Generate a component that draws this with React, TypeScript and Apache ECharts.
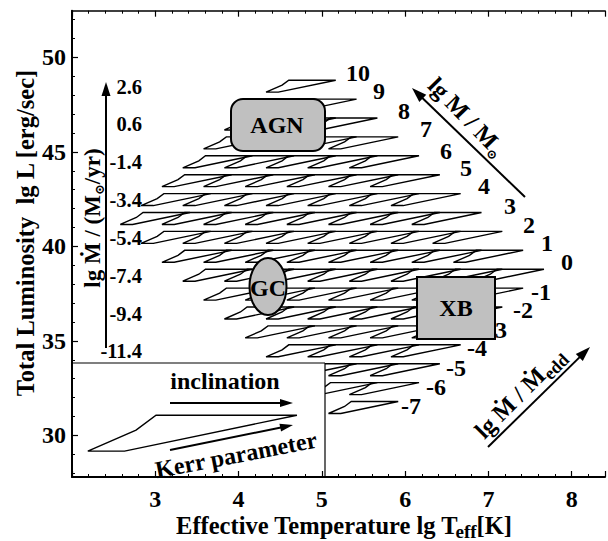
import React, { useEffect, useRef } from 'react';
import * as echarts from 'echarts';

const FONT = "'Liberation Serif', 'Times New Roman', 'DejaVu Serif', serif";

// ---- data ----
// lg L of the lower-left vertex (tip) of the shapes in each row, top to bottom
const rowTipLum = [48.16, 47.16, 46.16, 45.16, 44.16, 43.16, 42.16, 41.16, 40.16, 39.16, 38.16, 37.16, 36.16, 35.16, 34.16, 33.16, 32.16, 31.16];
// lg T_eff of the tip of each shape in each row (right to left)
const rowTipTeff = [
  [4.33],
  [4.58, 4.08],
  [4.83, 4.33, 3.83],
  [5.08, 4.58, 4.08, 3.58],
  [5.33, 4.83, 4.33, 3.83, 3.33],
  [5.58, 5.08, 4.58, 4.08, 3.58, 3.08],
  [5.83, 5.33, 4.83, 4.33, 3.83, 3.33, 2.83],
  [6.08, 5.58, 5.08, 4.58, 4.08, 3.58, 3.08, 2.58],
  [6.33, 5.83, 5.33, 4.83, 4.33, 3.83, 3.33, 2.83],
  [6.58, 6.08, 5.58, 5.08, 4.58, 4.08, 3.58, 3.08],
  [6.83, 6.33, 5.83, 5.33, 4.83, 4.33, 3.83, 3.33],
  [6.58, 6.08, 5.58, 5.08, 4.58, 4.08, 3.58],
  [6.33, 5.83, 5.33, 4.83, 4.33, 3.83],
  [6.08, 5.58, 5.08, 4.58, 4.08],
  [5.83, 5.33, 4.83, 4.33],
  [5.58, 5.08, 4.58],
  [5.33, 4.83],
  [5.08],
];
// one shape (range over inclination and Kerr parameter), offsets from its tip
const shapeDTeff = [0, 0.147, 0.837, 0.273, 0.193];
const shapeDLum = [0, 0, 0.633, 0.633, 0.37];
// magnified example in the inset
const insetTip = [2.19, 29.17];
const insetScale = 3;

const massLabels = ['10', '9', '8', '7', '6', '5', '4', '3', '2', '1', '0'];
const eddLabels = ['-1', '-2', '-3', '-4', '-5', '-6', '-7'];
const mdotValues = [2.6, 0.6, -1.4, -3.4, -5.4, -7.4, -9.4, -11.4];
const lumOfMdotOffset = 45.85;

const xTickLabels = [3, 4, 5, 6, 7, 8];
const yTickLabels = [30, 35, 40, 45, 50];
const yMinorTicks = [28, 29, 30, 31, 32, 33, 34, 35, 36, 37, 38, 39, 40, 41, 42, 43, 44, 45, 46, 47, 48, 49, 50, 51, 52];

// ---- layout (pixels) ----
const massLabelPos = [[358, 73], [379, 91], [404, 111], [426, 129], [446, 151], [466, 168], [484, 186], [510, 206], [529, 225], [547, 243], [567, 262]];
const eddLabelPos = [[541, 292], [523, 310], [497, 330], [477, 348], [456, 368], [436, 387], [411, 406]];

const measureCtx = typeof document !== 'undefined' ? document.createElement('canvas').getContext('2d') : null;
function textWidth(t: string, size: number) {
  if (!measureCtx) return t.length * size * 0.5;
  measureCtx.font = `bold ${size}px ${FONT}`;
  return measureCtx.measureText(t).width;
}

function txt(text: string, x: number, y: number, size: number, z: number, extra: any = {}) {
  return {
    type: 'text', x, y, z, silent: true, ...extra,
    style: { text, fontSize: size, fontWeight: 'bold', fontFamily: FONT, fill: '#000', align: extra.align || 'center', verticalAlign: 'middle' },
  };
}

type Part = { t: string; size: number; dy?: number; gap?: number };
function subGroup(parts: Part[], x: number, y: number, rotation: number, z: number) {
  const widths = parts.map((p) => textWidth(p.t, p.size) + (p.gap || 0));
  const total = widths.reduce((a, b) => a + b, 0);
  let cx = -total / 2;
  const children = parts.map((p, i) => {
    const el = {
      type: 'text', x: cx + (p.gap || 0), y: p.dy || 0, z, silent: true,
      style: { text: p.t, fontSize: p.size, fontWeight: 'bold', fontFamily: FONT, fill: '#000', align: 'left', verticalAlign: 'middle' },
    };
    cx += widths[i];
    return el;
  });
  return { type: 'group', x, y, rotation, z, children };
}

function arrow(x1: number, y1: number, x2: number, y2: number, head: number, half: number, width: number, z: number) {
  const dx = x2 - x1, dy = y2 - y1, L = Math.hypot(dx, dy), ux = dx / L, uy = dy / L;
  const bx = x2 - ux * head, by = y2 - uy * head;
  return [
    { type: 'line', z, silent: true, shape: { x1, y1, x2: bx + ux * 2, y2: by + uy * 2 }, style: { stroke: '#000', lineWidth: width } },
    { type: 'polygon', z, silent: true, shape: { points: [[x2, y2], [bx - uy * half, by + ux * half], [bx + uy * half, by - ux * half]] }, style: { fill: '#000' } },
  ];
}

export default function App() {
  const ref = useRef<HTMLDivElement>(null);
  useEffect(() => {
    document.body.style.margin = '0';
    const chart = echarts.init(ref.current!, null, { renderer: 'svg' });

    const shapeData: number[][] = [];
    rowTipTeff.forEach((row, r) => row.forEach((t) => shapeData.push([t, rowTipLum[r], 1])));

    const renderShape = (params: any, api: any) => {
      const x = api.value(0), y = api.value(1), s = api.value(2);
      const pts = shapeDTeff.map((dt, i) => api.coord([x + dt * s, y + shapeDLum[i] * s]));
      return { type: 'polygon', shape: { points: pts }, style: { fill: 'none', stroke: '#000', lineWidth: 1.4 } };
    };

    const labelFont = { fontFamily: FONT, fontWeight: 'bold' as const, fontSize: 24, color: '#000' };
    const xCommon = {
      type: 'value', min: 2, max: 8.4, interval: 1, z: 20,
      splitLine: { show: false }, minorSplitLine: { show: false },
      axisTick: { inside: true, length: 6, lineStyle: { color: '#000', width: 1.2 } },
      minorTick: { show: true, splitNumber: 5, length: 3, lineStyle: { color: '#000', width: 1 } },
    };

    chart.setOption({
      animation: false,
      backgroundColor: '#fff',
      grid: { left: 72, top: 10.7, right: -3.5, bottom: 64, containLabel: false },
      xAxis: [
        {
          ...xCommon, position: 'bottom',
          axisLine: { onZero: false, lineStyle: { color: '#000', width: 2 } },
          axisLabel: {
            ...labelFont, margin: 10,
            formatter: (v: number) => (xTickLabels.some((t) => Math.abs(t - v) < 1e-6) ? String(Math.round(v)) : ''),
          },
        },
        {
          ...xCommon, position: 'top',
          axisLine: { onZero: false, lineStyle: { color: '#000', width: 1.5 } },
          axisLabel: { show: false },
        },
      ],
      yAxis: [
        {
          type: 'value', min: 27.8, max: 52.47, position: 'left', z: 20,
          splitLine: { show: false },
          axisLine: { onZero: false, lineStyle: { color: '#000', width: 2 } },
          axisTick: { inside: true, length: 6, customValues: yTickLabels, lineStyle: { color: '#000', width: 1.2 } },
          axisLabel: { ...labelFont, margin: 6, customValues: yTickLabels },
        },
        {
          type: 'value', min: 27.8, max: 52.47, position: 'left', z: 20,
          splitLine: { show: false },
          axisLine: { show: false },
          axisTick: { inside: true, length: 3, customValues: yMinorTicks, lineStyle: { color: '#000', width: 1 } },
          axisLabel: { show: false },
        },
      ],
      series: [
        { type: 'custom', name: 'disks', z: 2, clip: false, silent: true, renderItem: renderShape, encode: { x: 0, y: 1 }, data: shapeData },
        { type: 'custom', name: 'inset', z: 12, clip: false, silent: true, renderItem: renderShape, encode: { x: 0, y: 1 }, data: [[insetTip[0], insetTip[1], insetScale]] },
      ],
    });

    const els: any[] = [];
    // inset box
    els.push({ type: 'rect', z: 10, silent: true, shape: { x: 73, y: 363, width: 252, height: 113 }, style: { fill: '#fff' } });
    els.push({ type: 'line', z: 10, silent: true, shape: { x1: 72, y1: 363, x2: 325, y2: 363 }, style: { stroke: '#000', lineWidth: 1.2 } });
    els.push({ type: 'line', z: 10, silent: true, shape: { x1: 325, y1: 363, x2: 325, y2: 477 }, style: { stroke: '#000', lineWidth: 1.2 } });
    els.push(txt('inclination', 225, 381, 24, 16));
    els.push(...arrow(170, 403, 293, 403, 13, 4, 2, 16));
    els.push(...arrow(170, 450, 293, 425, 13, 4, 2, 16));
    els.push(txt('Kerr parameter', 236, 455, 24, 16, { rotation: 0.19 }));

    // object boxes
    els.push({ type: 'rect', z: 15, silent: true, shape: { x: 231, y: 99, width: 94, height: 52, r: 12 }, style: { fill: '#c0c0c0', stroke: '#000', lineWidth: 2 } });
    els.push(txt('AGN', 277, 125, 24, 16));
    els.push({ type: 'ellipse', z: 15, silent: true, shape: { cx: 268, cy: 286.5, rx: 18.5, ry: 28.5 }, style: { fill: '#c0c0c0', stroke: '#000', lineWidth: 2 } });
    els.push(txt('GC', 268, 288, 24, 16));
    els.push({ type: 'rect', z: 15, silent: true, shape: { x: 417, y: 277, width: 78, height: 62 }, style: { fill: '#c0c0c0', stroke: '#000', lineWidth: 2 } });
    els.push(txt('XB', 456, 308, 24, 16));

    // row labels
    massLabels.forEach((l, i) => els.push(txt(l, massLabelPos[i][0], massLabelPos[i][1], 24, 5)));
    eddLabels.forEach((l, i) => els.push(txt(l, eddLabelPos[i][0], eddLabelPos[i][1], 24, 5)));

    // accretion-rate scale on the left
    els.push(...arrow(106, 348, 106, 82, 14, 4.5, 2, 16));
    mdotValues.forEach((v) => {
      const py = chart.convertToPixel({ yAxisIndex: 0 }, v + lumOfMdotOffset) as number;
      els.push(txt(v.toFixed(1), 142, py, 20.5, 16, { align: 'right' }));
    });
    els.push(subGroup([{ t: 'lg Ṁ / (M', size: 23 }, { t: '⊙', size: 13, dy: 7 }, { t: '/yr)', size: 23 }], 92, 218, Math.PI / 2, 16));

    // diagonal scales
    els.push(...arrow(525, 197, 412, 88, 15, 5, 2, 16));
    els.push(subGroup([{ t: 'lg M / M', size: 24 }, { t: '⊙', size: 13, dy: 8 }], 467, 117, -0.8, 16));
    els.push(...arrow(488, 447, 590, 347, 15, 5, 2, 16));
    els.push(subGroup([{ t: 'lg Ṁ / Ṁ', size: 24 }, { t: 'edd', size: 18, dy: 7 }], 520, 393, Math.PI / 4, 16));

    // axis titles
    els.push(txt('Total Luminosity\u00a0 lg L [erg/sec]', 25, 233, 24.5, 16, { rotation: Math.PI / 2 }));
    els.push(subGroup([{ t: 'Effective Temperature lg T', size: 24.5 }, { t: 'eff', size: 19, dy: 6, gap: -3 }, { t: '[K]', size: 24.5 }], 344, 525, 0, 16));

    chart.setOption({ graphic: { elements: els } });
    return () => chart.dispose();
  }, []);
  return <div ref={ref} style={{ width: 608, height: 541 }} />;
}
